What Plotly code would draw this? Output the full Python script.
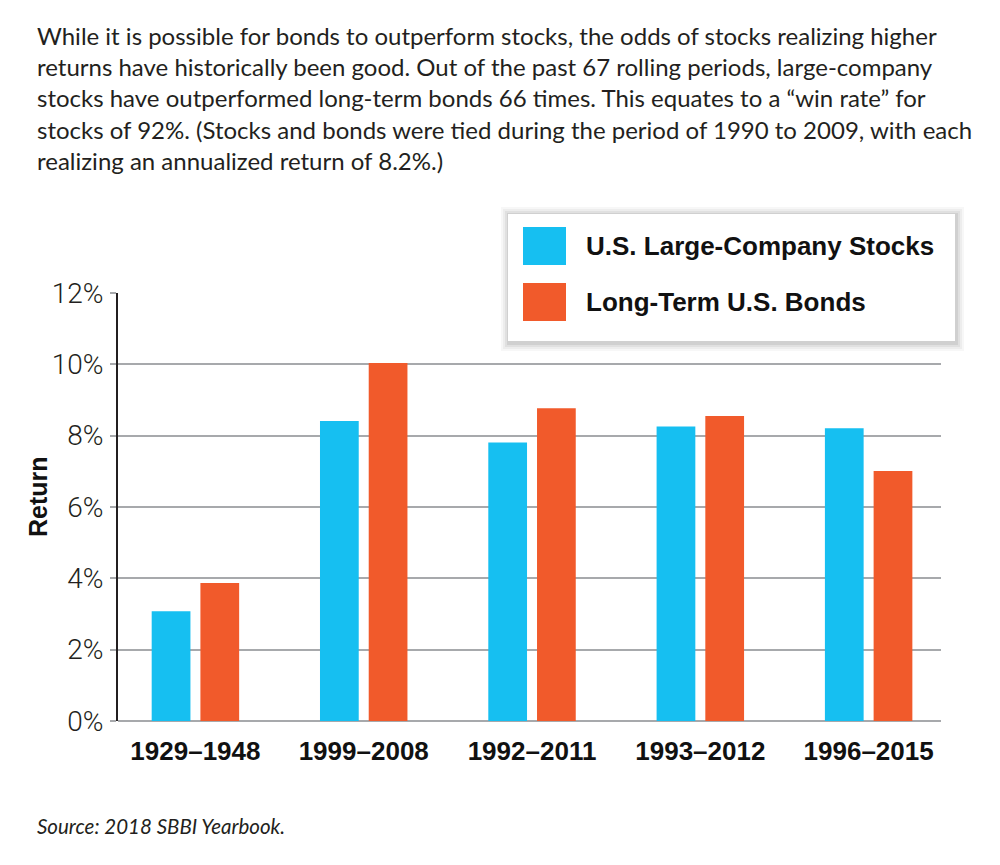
import plotly.graph_objects as go

# dados
periodos = ['1929–1948', '1999–2008', '1992–2011', '1993–2012', '1996–2015']
acoes = [3.08, 8.41, 7.81, 8.26, 8.21]
titulos = [3.87, 10.04, 8.77, 8.55, 7.01]
series = ['U.S. Large-Company Stocks', 'Long-Term U.S. Bonds']
cores = ['#16bff1', '#f15a2b']
ticks_y = [0, 2, 4, 6, 8, 10, 12]
texto_topo = [
    'While it is possible for bonds to outperform stocks, the odds of stocks realizing higher',
    'returns have historically been good. Out of the past 67 rolling periods, large-company',
    'stocks have outperformed long-term bonds 66 times. This equates to a “win rate” for',
    'stocks of 92%. (Stocks and bonds were tied during the period of 1990 to 2009, with each',
    'realizing an annualized return of 8.2%.)',
]
texto_fonte = 'Source: 2018 SBBI Yearbook.'
titulo_y = 'Return'

# area do grafico em pixels
L, R, T, B = 118, 941, 293, 721
LARG, ALT = 1000, 865

def px(x):
    return (x - L) / (R - L)

def py(y):
    return (B - y) / (B - T)

fonte_texto = 'Lato, Liberation Sans Narrow, sans-serif'
fonte_bold = 'Liberation Sans, Arial, sans-serif'
cor_texto = '#231f20'

fig = go.Figure()
for nome, valores, cor in zip(series, [acoes, titulos], cores):
    fig.add_trace(go.Bar(
        x=periodos, y=valores, name=nome,
        marker=dict(color=cor, line=dict(width=0)),
        showlegend=False, hoverinfo='skip'
    ))

# legenda desenhada a mao (caixas grandes)
shapes = []
for d, op in [(8, 0.03), (6, 0.04), (4, 0.05), (2, 0.07)]:
    shapes.append(dict(type='rect', xref='paper', yref='paper',
                       x0=px(508 - d + 1), x1=px(955 + d + 1),
                       y0=py(341 + d + 2), y1=py(214 - d + 1),
                       fillcolor='rgba(0,0,0,%s)' % op, line=dict(width=0), layer='above'))
shapes.append(dict(type='rect', xref='paper', yref='paper',
                   x0=px(508), x1=px(955), y0=py(341), y1=py(214),
                   fillcolor='white', line=dict(width=0), layer='above'))
annotations = []
for i, (nome, cor) in enumerate(zip(series, cores)):
    y0 = 227 + i * 56
    shapes.append(dict(type='rect', xref='paper', yref='paper',
                       x0=px(523), x1=px(566), y0=py(y0 + 38), y1=py(y0),
                       fillcolor=cor, line=dict(width=0), layer='above'))
    annotations.append(dict(text=nome, xref='paper', yref='paper',
                            x=px(584), y=py(y0 + 19), xanchor='left', yanchor='middle',
                            showarrow=False,
                            font=dict(family=fonte_bold, size=26,
                                      color='#111111', weight='bold')))

annotations.append(dict(text='<br>'.join(texto_topo), xref='paper', yref='paper',
                        x=px(35), y=py(19), xanchor='left', yanchor='top', align='left',
                        showarrow=False,
                        font=dict(family=fonte_texto, size=24, color=cor_texto)))
annotations.append(dict(text='<i>' + texto_fonte + '</i>', xref='paper', yref='paper',
                        x=px(35), y=py(826), xanchor='left', yanchor='middle', align='left',
                        showarrow=False,
                        font=dict(family=fonte_texto, size=20.5, color=cor_texto)))
annotations.append(dict(text=titulo_y, xref='paper', yref='paper',
                        x=px(38), y=py(497), xanchor='center', yanchor='middle',
                        textangle=-90, showarrow=False,
                        font=dict(family=fonte_bold, size=25,
                                  color='#111111', weight='bold')))

fig.update_layout(
    width=LARG, height=ALT, autosize=False,
    margin=dict(l=L, r=LARG - R, t=T, b=ALT - B, pad=0),
    paper_bgcolor='white', plot_bgcolor='white',
    barmode='group', bargap=0.421, bargroupgap=0.205,
    shapes=shapes, annotations=annotations,
    xaxis=dict(
        type='category', range=[-0.46, 4.43],
        showgrid=False, showline=False, zeroline=False, ticks='',
        ticklabelstandoff=12,
        tickfont=dict(family=fonte_bold, size=26,
                      color='#111111', weight='bold'),
    ),
    yaxis=dict(
        range=[0, 12], tickvals=ticks_y, ticktext=['%d%%' % v for v in ticks_y],
        showgrid=True, gridcolor='#a7a9ac', gridwidth=2,
        zeroline=True, zerolinecolor='#a7a9ac', zerolinewidth=2,
        showline=True, linecolor='#231f20', linewidth=2,
        ticks='outside', ticklen=6, tickwidth=2, tickcolor='#a7a9ac',
        ticklabelstandoff=1,
        tickfont=dict(family='Roboto, Liberation Sans, sans-serif', size=28,
                      color=cor_texto, weight=300),
    ),
)

# a pagina padrao tem margem de 8px no body; zera para alinhar
fig.write_html('out.html', config={'displayModeBar': False},
               post_script="document.body.style.margin='0';")
